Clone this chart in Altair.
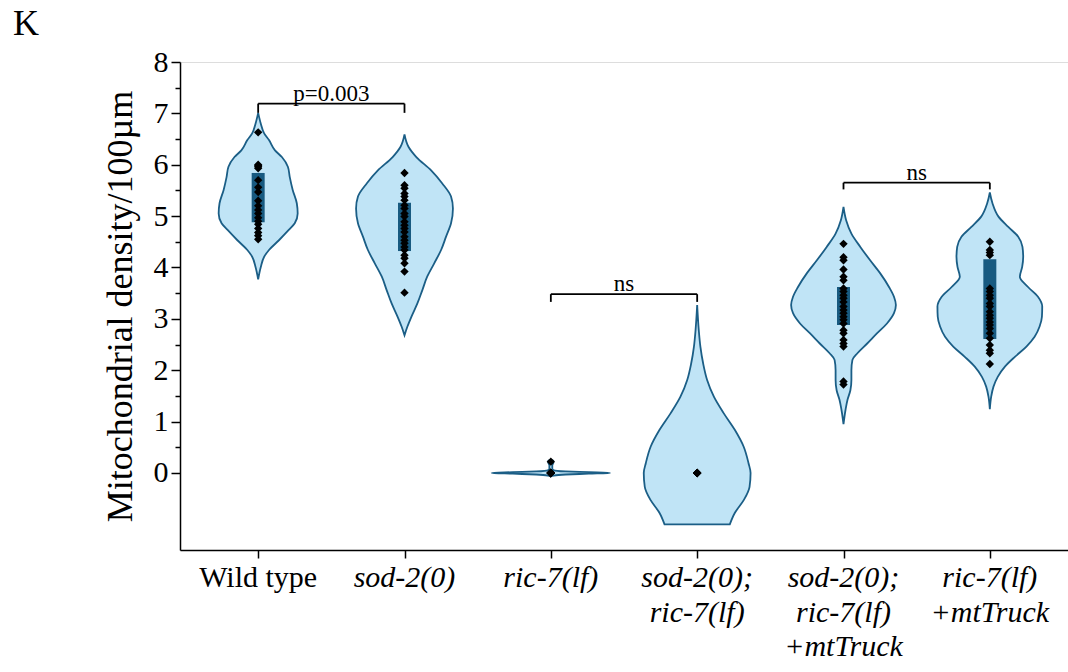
import altair as alt
import pandas as pd

# ---------------- data ----------------
label_lines = [
    ["Wild type"],
    ["sod-2(0)"],
    ["ric-7(lf)"],
    ["sod-2(0);", "ric-7(lf)"],
    ["sod-2(0);", "ric-7(lf)", "+mtTruck"],
    ["ric-7(lf)", "+mtTruck"],
]
label_italic = [False, True, True, True, True, True]

points_wt = [6.63, 6.0, 5.98, 5.96, 5.93, 5.7, 5.56, 5.47, 5.3, 5.2, 5.12, 5.05,
             4.97, 4.9, 4.84, 4.76, 4.68, 4.62, 4.55]
points_sod2 = [5.84, 5.6, 5.54, 5.44, 5.38, 5.31, 5.21, 5.15, 5.05, 4.99, 4.89,
               4.82, 4.76, 4.69, 4.6, 4.53, 4.47, 4.4, 4.34, 4.24, 4.18, 4.08,
               3.92, 3.51]
points_ric7 = [0.0, 0.0, 0.0, 0.0, 0.0, 0.0, 0.0, 0.0, 0.0, 0.0, 0.22]
points_sod2_ric7 = [0.0, 0.0, 0.0, 0.0, 0.0]
points_sod2_ric7_mt = [4.46, 4.2, 4.14, 3.96, 3.82, 3.75, 3.59, 3.53, 3.46, 3.4,
                       3.33, 3.24, 3.17, 3.11, 3.04, 2.98, 2.91, 2.78, 2.72,
                       2.59, 2.52, 2.46, 1.78, 1.72]
points_ric7_mt = [4.5, 4.34, 4.29, 4.24, 3.59, 3.53, 3.46, 3.4, 3.3, 3.24, 3.14,
                  3.07, 3.01, 2.94, 2.88, 2.81, 2.72, 2.62, 2.49, 2.39, 2.33,
                  2.12]
all_points = [points_wt, points_sod2, points_ric7, points_sod2_ric7,
              points_sod2_ric7_mt, points_ric7_mt]

q1 = [4.88, 4.32, 0.0, 0.0, 2.88, 2.61]
q3 = [5.84, 5.26, 0.0, 0.0, 3.62, 4.16]

# violin outlines: value and half-width (fraction of one category slot)
vio_wt_y = [7.01, 6.80, 6.61, 6.48, 6.28, 6.15, 5.96, 5.76, 5.51, 5.25, 5.05,
            4.86, 4.73, 4.53, 4.34, 4.21, 4.01, 3.77]
vio_wt_w = [0, .018, .041, .074, .115, .162, .203, .216, .236, .264, .270,
            .250, .209, .142, .074, .041, .018, 0]
vio_sod2_y = [6.59, 6.35, 6.15, 5.89, 5.64, 5.38, 5.15, 4.86, 4.60, 4.34, 4.08,
              3.82, 3.56, 3.30, 3.04, 2.85, 2.68]
vio_sod2_w = [0, .027, .081, .182, .257, .318, .331, .318, .284, .250, .203,
              .155, .122, .088, .047, .020, 0]
vio_ric7_y = [-0.07, -0.05, -0.03, -0.015, 0.0, 0.015, 0.03, 0.05, 0.08, 0.15,
              0.2, 0.24, 0.26]
vio_ric7_w = [0, .02, .10, .26, .405, .26, .10, .02, .01, .01, .017, .017, 0]
vio_sod2_ric7_y = [3.27, 2.78, 2.46, 2.13, 1.81, 1.48, 1.16, 0.84, 0.51, 0.19,
                   0.0, -0.27, -0.53, -0.78, -1.0]
vio_sod2_ric7_w = [0, .011, .022, .041, .068, .115, .182, .257, .318, .351,
                   .365, .358, .318, .257, .223]
vio_sod2_ric7_mt_y = [5.18, 4.92, 4.66, 4.40, 4.14, 3.89, 3.62, 3.43, 3.27,
                      3.11, 2.91, 2.72, 2.52, 2.33, 2.20, 2.00, 1.81, 1.61,
                      1.42, 1.23, 0.95]
vio_sod2_ric7_mt_w = [0, .018, .054, .115, .182, .25, .311, .345, .358, .345,
                      .297, .230, .162, .095, .061, .054, .054, .047, .027,
                      .014, 0]
vio_ric7_mt_y = [5.46, 5.25, 4.99, 4.79, 4.60, 4.40, 4.21, 4.01, 3.82, 3.62,
                 3.43, 3.24, 3.04, 2.85, 2.65, 2.46, 2.26, 2.07, 1.87, 1.68,
                 1.48, 1.24]
vio_ric7_mt_w = [0, .018, .059, .126, .194, .223, .228, .221, .205, .261, .329,
                 .358, .356, .340, .306, .250, .171, .103, .054, .025, .009, 0]
vio_y = [vio_wt_y, vio_sod2_y, vio_ric7_y, vio_sod2_ric7_y, vio_sod2_ric7_mt_y,
         vio_ric7_mt_y]
vio_w = [vio_wt_w, vio_sod2_w, vio_ric7_w, vio_sod2_ric7_w, vio_sod2_ric7_mt_w,
         vio_ric7_mt_w]

# significance brackets
br_from = [0, 2, 4]
br_to = [1, 3, 5]
br_y = [7.19, 3.48, 5.65]
br_drop = [7.01, 3.33, 5.52]
br_text = ["p=0.003", "ns", "ns"]

Y_MIN, Y_MAX = -1.5, 8

# ---------------- tables ----------------
vio_rows = []
for g, (ys_, ws_) in enumerate(zip(vio_y, vio_w)):
    c = g + 0.5
    for y, w in zip(ys_, ws_):
        vio_rows.append({"g": g, "y": y, "left": c - w, "right": c + w})
vio_df = pd.DataFrame(vio_rows)

pt_df = pd.DataFrame([{"g": g, "x": g + 0.5, "v": v}
                      for g, pts in enumerate(all_points) for v in pts])
box_df = pd.DataFrame({"x": [g + 0.5 for g in range(6)], "q1": q1, "q3": q3})

br_df = pd.DataFrame({
    "x1": [a + 0.5 for a in br_from], "x2": [b + 0.5 for b in br_to],
    "xm": [(a + b) / 2 + 0.5 for a, b in zip(br_from, br_to)],
    "y": br_y, "yd": br_drop, "t": br_text,
})
drop_df = pd.concat([
    br_df[["x1", "y", "yd"]].rename(columns={"x1": "x"}),
    br_df[["x2", "y", "yd"]].rename(columns={"x2": "x"}),
])

lab_df = pd.DataFrame({
    "x": [g + 0.5 for g in range(6)],
    "y": [Y_MIN] * 6,
    "lines": label_lines,
    "italic": label_italic,
})

# ---------------- scales & axes ----------------
FONT = "Liberation Serif"
xs = alt.Scale(domain=[0, 6], nice=False, zero=False)
ys = alt.Scale(domain=[Y_MIN, Y_MAX], nice=False, zero=False)

x_axis = alt.Axis(
    values=[g + 0.5 for g in range(6)], labels=False,
    tickSize=8, tickColor="black", tickWidth=1.5,
    domainColor="black", domainWidth=1.5, grid=False, title=None,
)
y_axis = alt.Axis(
    values=[i / 2 for i in range(17)],
    labelExpr="datum.value % 1 === 0 ? format(datum.value, 'd') : ''",
    tickSize={"condition": {"test": "datum.value % 1 !== 0", "value": 5},
              "value": 9},
    labelFont=FONT, labelFontSize=30, labelColor="black", labelPadding=3,
    tickColor="black", tickWidth=1.5, domainColor="black", domainWidth=1.5,
    grid=False, title="Mitochondrial density/100\u00b5m", titleFont=FONT,
    titleFontSize=36, titleFontWeight="normal", titleColor="black",
    titlePadding=14,
)

def X(f):
    return alt.X(f, type="quantitative", scale=xs, axis=x_axis, title=None)

def Y(f):
    return alt.Y(f, type="quantitative", scale=ys, axis=y_axis)

FILL = "#c0e4f6"
EDGE = "#1b5e86"
BOX = "#185a80"

violins = alt.Chart(vio_df).mark_area(
    orient="horizontal", fill=FILL, stroke=EDGE, strokeWidth=1.8,
    interpolate="monotone", fillOpacity=1,
).encode(y=Y("y"), x=X("left"), x2="right", detail="g:N")

boxes = alt.Chart(box_df).mark_bar(size=13, color=BOX).encode(
    x=X("x"), y=Y("q1"), y2="q3")

points = alt.Chart(pt_df).mark_point(
    shape="diamond", filled=True, size=70, color="black", opacity=1
).encode(x=X("x"), y=Y("v"))

br_h = alt.Chart(br_df).mark_rule(color="black", strokeWidth=1.8).encode(
    x=X("x1"), x2="x2", y=Y("y"))
br_v = alt.Chart(drop_df).mark_rule(color="black", strokeWidth=1.8).encode(
    x=X("x"), y=Y("y"), y2="yd")
br_t = alt.Chart(br_df).mark_text(
    font=FONT, fontSize=23, color="black", baseline="alphabetic", dy=-3
).encode(x=X("xm"), y=Y("y"), text="t:N")

def label_layer(italic):
    return alt.Chart(lab_df).transform_filter(
        "datum.italic" if italic else "!datum.italic"
    ).mark_text(
        font=FONT, fontSize=30, color="black", baseline="top", align="center",
        dy=13, lineHeight=34.5, fontStyle="italic" if italic else "normal",
    ).encode(x=X("x"), y=Y("y"), text="lines")

chart = alt.layer(
    violins, boxes, points, br_h, br_v, br_t, label_layer(False),
    label_layer(True),
).properties(
    width=888, height=488,
    padding={"left": 180, "top": 62, "right": 0, "bottom": 122},
    autosize=alt.AutoSizeParams(type="none"),
    title=alt.TitleParams(
        text="K", anchor="start", frame="group", font=FONT, fontSize=36,
        fontWeight="normal", color="black", dx=-167, orient="top",
    ),
).configure_view(stroke=None).configure(background="white")

chart.save("out.html", embed_options={"renderer": "svg", "actions": False})
